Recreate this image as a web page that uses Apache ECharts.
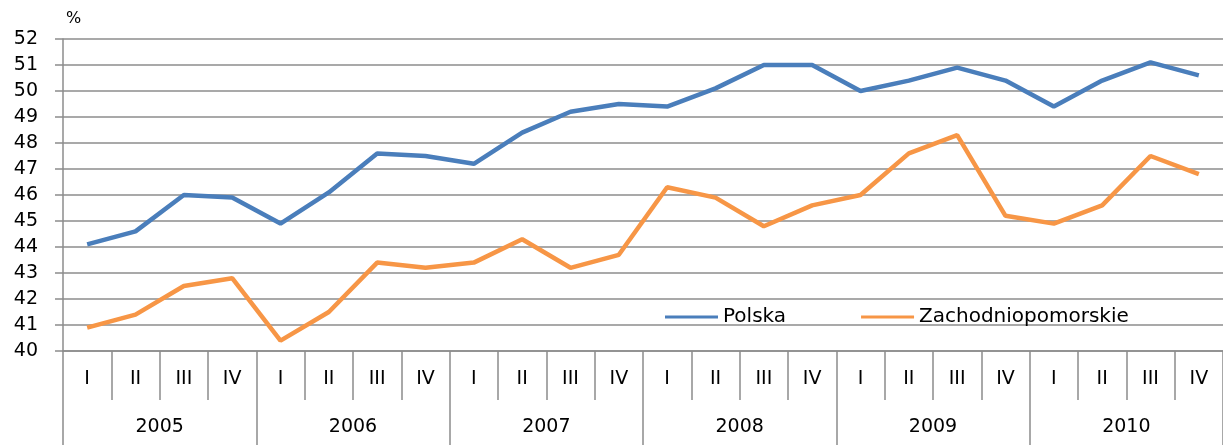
<!DOCTYPE html>
<html>
<head>
<meta charset="utf-8">
<script src="https://cdn.jsdelivr.net/npm/echarts@6/dist/echarts.min.js"></script>
<style>
 html, body { margin: 0; padding: 0; background: #fff; }
 #chart { width: 1223px; height: 445px; }
</style>
</head>
<body>
<div id="chart"></div>
<script>
const quarters = ['I', 'II', 'III', 'IV', 'I', 'II', 'III', 'IV', 'I', 'II', 'III', 'IV',
 'I', 'II', 'III', 'IV', 'I', 'II', 'III', 'IV', 'I', 'II', 'III', 'IV']
const years = ['2005', '2006', '2007', '2008', '2009', '2010']
const polska = [44.1, 44.6, 46.0, 45.9, 44.9, 46.1, 47.6, 47.5, 47.2, 48.4, 49.2, 49.5,
 49.4, 50.1, 51.0, 51.0, 50.0, 50.4, 50.9, 50.4, 49.4, 50.4, 51.1, 50.6]
const zachodniopomorskie = [40.9, 41.4, 42.5, 42.8, 40.4, 41.5, 43.4, 43.2, 43.4, 44.3, 43.2, 43.7,
 46.3, 45.9, 44.8, 45.6, 46.0, 47.6, 48.3, 45.2, 44.9, 45.6, 47.5, 46.8]

const font = 'DejaVu Sans'
const gridColor = '#8c8c8c'

const chart = echarts.init(document.getElementById('chart'))
chart.setOption({
 backgroundColor: '#fff',
 animation: false,
 textStyle: { fontFamily: font },
 legend: {
 left: 660,
 top: 302,
 itemWidth: 53,
 itemHeight: 3,
 itemGap: 75,
 icon: 'rect',
 textStyle: { fontFamily: font, fontSize: 20, color: '#000' },
 data: ['Polska', 'Zachodniopomorskie']
 },
 grid: { left: 63, right: 0, top: 39, bottom: 94 },
 xAxis: [
 {
 type: 'category',
 data: quarters,
 boundaryGap: true,
 axisLine: { show: true, lineStyle: { color: gridColor, width: 1.5 } },
 axisTick: { show: true, interval: 0, length: 49, lineStyle: { color: gridColor, width: 1.5 } },
 axisLabel: { interval: 0, margin: 19, fontSize: 19, color: '#000', fontFamily: font }
 },
 {
 type: 'category',
 data: years,
 position: 'bottom',
 boundaryGap: true,
 axisLine: { show: false },
 axisTick: { show: true, interval: 0, length: 94, lineStyle: { color: gridColor, width: 1.5 } },
 axisLabel: { interval: 0, margin: 67, fontSize: 19, color: '#000', fontFamily: font }
 }
 ],
 yAxis: {
 type: 'value',
 name: '%',
 nameLocation: 'end',
 nameGap: 12,
 nameTextStyle: { fontFamily: font, fontSize: 16, color: '#000', align: 'left', padding: [0, 0, 0, 3] },
 min: 40,
 max: 52,
 interval: 1,
 axisLine: { show: true, lineStyle: { color: gridColor, width: 1.5 } },
 axisTick: { show: true, length: 8, lineStyle: { color: gridColor, width: 1.5 } },
 axisLabel: { margin: 25, fontSize: 19, color: '#000', fontFamily: font },
 splitLine: { lineStyle: { color: gridColor, width: 1.5 } }
 },
 series: [
 {
 name: 'Polska',
 type: 'line',
 data: polska,
 symbol: 'none',
 lineStyle: { width: 4.5, color: '#4a7ebb' },
 itemStyle: { color: '#4a7ebb' }
 },
 {
 name: 'Zachodniopomorskie',
 type: 'line',
 data: zachodniopomorskie,
 symbol: 'none',
 lineStyle: { width: 4.5, color: '#f79646' },
 itemStyle: { color: '#f79646' }
 }
 ]
})
</script>
</body>
</html>
